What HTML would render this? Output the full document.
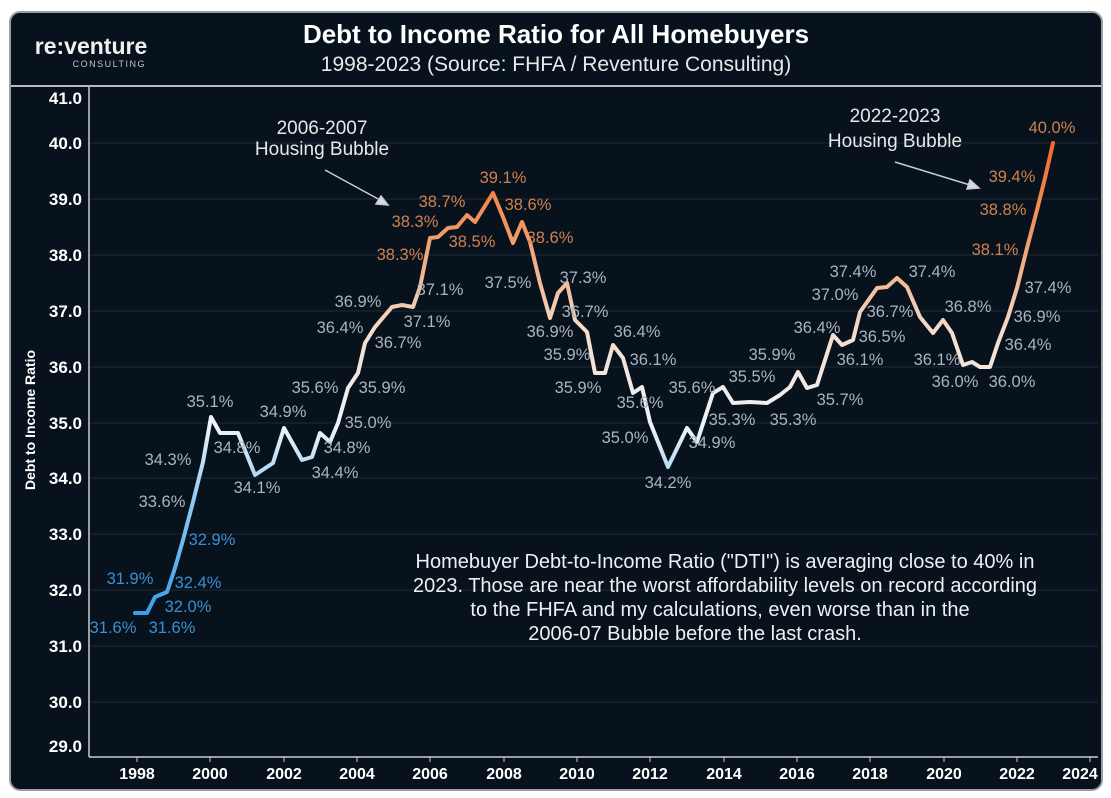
<!DOCTYPE html>
<html><head><meta charset="utf-8"><style>
html,body{margin:0;padding:0;background:#fff;width:1111px;height:798px;overflow:hidden}
svg{display:block}
text{font-family:"Liberation Sans",Arial,sans-serif}
</style></head><body>
<svg width="1111" height="798" viewBox="0 0 1111 798" xmlns="http://www.w3.org/2000/svg">
<defs>
<linearGradient id="g" gradientUnits="userSpaceOnUse" x1="0" y1="143" x2="0" y2="613">
<stop offset="0" stop-color="#f2692a"/>
<stop offset="0.19" stop-color="#ef9a66"/>
<stop offset="0.4" stop-color="#f4dccb"/>
<stop offset="0.6" stop-color="#eef4fa"/>
<stop offset="0.76" stop-color="#8fcaf2"/>
<stop offset="1" stop-color="#3a9eea"/>
</linearGradient>
</defs>
<rect x="10" y="12" width="1092" height="778" rx="10" fill="#07121c" stroke="#9aa0a6" stroke-width="2"/>
<line x1="11" y1="86" x2="1101" y2="86" stroke="#b8bcc0" stroke-width="2"/>
<text x="91" y="54" fill="#f0f0f0" font-size="23" font-weight="bold" text-anchor="middle">re:venture</text>
<text x="146" y="67" fill="#c0c4c8" font-size="9" letter-spacing="1.5" text-anchor="end">CONSULTING</text>
<text x="556" y="43" fill="#ffffff" font-size="26" font-weight="bold" text-anchor="middle">Debt to Income Ratio for All Homebuyers</text>
<text x="556" y="71" fill="#e8e8e8" font-size="21" text-anchor="middle">1998-2023 (Source: FHFA / Reventure Consulting)</text>
<g stroke="#1c2a36" stroke-width="1">
<line x1="89" y1="143" x2="1098" y2="143"/><line x1="89" y1="199" x2="1098" y2="199"/><line x1="89" y1="255" x2="1098" y2="255"/><line x1="89" y1="311" x2="1098" y2="311"/><line x1="89" y1="367" x2="1098" y2="367"/><line x1="89" y1="423" x2="1098" y2="423"/><line x1="89" y1="478" x2="1098" y2="478"/><line x1="89" y1="534" x2="1098" y2="534"/><line x1="89" y1="590" x2="1098" y2="590"/><line x1="89" y1="646" x2="1098" y2="646"/><line x1="89" y1="702" x2="1098" y2="702"/>
</g>
<line x1="89" y1="87" x2="89" y2="757" stroke="#c8ccd0" stroke-width="1.5"/>
<line x1="89" y1="757" x2="1098" y2="757" stroke="#c8ccd0" stroke-width="1.5"/>
<g fill="#ffffff" font-size="17" font-weight="bold" text-anchor="end">
<text x="82" y="104">41.0</text><text x="82" y="149">40.0</text><text x="82" y="205">39.0</text><text x="82" y="261">38.0</text><text x="82" y="317">37.0</text><text x="82" y="373">36.0</text><text x="82" y="429">35.0</text><text x="82" y="484">34.0</text><text x="82" y="540">33.0</text><text x="82" y="596">32.0</text><text x="82" y="652">31.0</text><text x="82" y="708">30.0</text><text x="82" y="752">29.0</text>
</g>
<g stroke="#c8ccd0" stroke-width="1">
<line x1="137" y1="757" x2="137" y2="762"/><line x1="210" y1="757" x2="210" y2="762"/><line x1="284" y1="757" x2="284" y2="762"/><line x1="357" y1="757" x2="357" y2="762"/><line x1="430" y1="757" x2="430" y2="762"/><line x1="504" y1="757" x2="504" y2="762"/><line x1="577" y1="757" x2="577" y2="762"/><line x1="650" y1="757" x2="650" y2="762"/><line x1="724" y1="757" x2="724" y2="762"/><line x1="797" y1="757" x2="797" y2="762"/><line x1="870" y1="757" x2="870" y2="762"/><line x1="944" y1="757" x2="944" y2="762"/><line x1="1017" y1="757" x2="1017" y2="762"/><line x1="1090" y1="757" x2="1090" y2="762"/>
</g>
<g fill="#ffffff" font-size="16" font-weight="bold" text-anchor="middle">
<text x="137" y="779">1998</text><text x="210" y="779">2000</text><text x="284" y="779">2002</text><text x="357" y="779">2004</text><text x="430" y="779">2006</text><text x="504" y="779">2008</text><text x="577" y="779">2010</text><text x="650" y="779">2012</text><text x="724" y="779">2014</text><text x="797" y="779">2016</text><text x="870" y="779">2018</text><text x="944" y="779">2020</text><text x="1017" y="779">2022</text><text x="1080" y="779">2024</text>
</g>
<text transform="translate(35,420) rotate(-90)" fill="#ffffff" font-size="14" font-weight="bold" text-anchor="middle">Debt to Income Ratio</text>
<polyline fill="none" stroke="url(#g)" stroke-width="4" stroke-linejoin="round" stroke-linecap="round" points="135,613 147,613 155,597 167,592 175,568 183,540 193,502 203,462 211,417 220,433 238,433 255,475 273,463 284,428 302,460 312,457 320,433 330,442 338,423 348,388 358,373 365,343 375,327 392,307 402,305 413,307 420,287 430,238 438,237 448,228 457,227 467,215 475,222 493,193 503,217 513,243 522,222 530,242 540,283 550,318 558,293 567,283 575,320 587,332 595,373 605,373 613,345 623,358 633,393 642,387 650,422 668,467 687,428 697,442 713,393 723,387 733,403 750,402 767,403 780,395 790,387 798,372 807,388 817,385 833,335 842,345 853,340 860,312 877,288 887,287 897,278 907,287 920,317 933,333 943,320 952,333 963,365 972,362 980,367 990,367 998,343 1008,317 1017,288 1027,248 1037,210 1045,178 1053,143"/>
<g font-size="16.5" text-anchor="middle">
<g fill="#3c8fd2"><text x="130" y="584">31.9%</text><text x="113" y="633">31.6%</text><text x="172" y="633">31.6%</text><text x="198" y="588">32.4%</text><text x="188" y="612">32.0%</text><text x="212" y="545">32.9%</text></g>
<g fill="#a9b4be"><text x="162" y="507">33.6%</text><text x="168" y="465">34.3%</text><text x="210" y="407">35.1%</text><text x="237" y="453">34.8%</text><text x="283" y="417">34.9%</text><text x="257" y="493">34.1%</text><text x="347" y="453">34.8%</text><text x="335" y="478">34.4%</text><text x="368" y="428">35.0%</text><text x="315" y="393">35.6%</text><text x="382" y="393">35.9%</text><text x="358" y="307">36.9%</text><text x="340" y="333">36.4%</text><text x="398" y="348">36.7%</text><text x="427" y="327">37.1%</text><text x="440" y="295">37.1%</text>
<text x="508" y="288">37.5%</text><text x="583" y="283">37.3%</text><text x="585" y="317">36.7%</text><text x="550" y="337">36.9%</text><text x="567" y="360">35.9%</text><text x="578" y="393">35.9%</text><text x="637" y="337">36.4%</text><text x="653" y="365">36.1%</text><text x="640" y="408">35.6%</text><text x="625" y="443">35.0%</text><text x="668" y="488">34.2%</text><text x="692" y="393">35.6%</text><text x="712" y="448">34.9%</text><text x="732" y="425">35.3%</text><text x="752" y="382">35.5%</text><text x="793" y="425">35.3%</text><text x="772" y="360">35.9%</text><text x="840" y="405">35.7%</text><text x="817" y="333">36.4%</text><text x="860" y="365">36.1%</text><text x="835" y="300">37.0%</text><text x="853" y="277">37.4%</text><text x="882" y="342">36.5%</text><text x="890" y="317">36.7%</text><text x="932" y="277">37.4%</text><text x="968" y="312">36.8%</text><text x="937" y="365">36.1%</text><text x="955" y="387">36.0%</text><text x="1012" y="387">36.0%</text><text x="1028" y="350">36.4%</text><text x="1037" y="322">36.9%</text><text x="1048" y="293">37.4%</text></g>
<g fill="#d08050"><text x="400" y="260">38.3%</text><text x="415" y="227">38.3%</text><text x="442" y="207">38.7%</text><text x="472" y="247">38.5%</text><text x="503" y="183">39.1%</text><text x="528" y="210">38.6%</text><text x="550" y="243">38.6%</text><text x="995" y="255">38.1%</text><text x="1003" y="215">38.8%</text><text x="1012" y="182">39.4%</text><text x="1052" y="133">40.0%</text></g>
</g>
<g fill="#e8e8e8" font-size="19" text-anchor="middle">
<text x="322" y="134">2006-2007</text><text x="322" y="155">Housing Bubble</text>
<text x="895" y="122">2022-2023</text><text x="895" y="147">Housing Bubble</text>
</g>
<g stroke="#c8ccd0" stroke-width="1.5" fill="#d8dce0">
<line x1="325" y1="170" x2="380" y2="200"/><polygon points="388,205 376,204 381,196"/>
<line x1="895" y1="162" x2="970" y2="185"/><polygon points="979,188 967,189 970,180"/>
</g>
<g fill="#eef0f2" font-size="20" text-anchor="middle">
<text x="725" y="568">Homebuyer Debt-to-Income Ratio ("DTI") is averaging close to 40% in</text>
<text x="725" y="592">2023. Those are near the worst affordability levels on record according</text>
<text x="720" y="616">to the FHFA and my calculations, even worse than in the</text>
<text x="695" y="640">2006-07 Bubble before the last crash.</text>
</g>
</svg>
</body></html>
